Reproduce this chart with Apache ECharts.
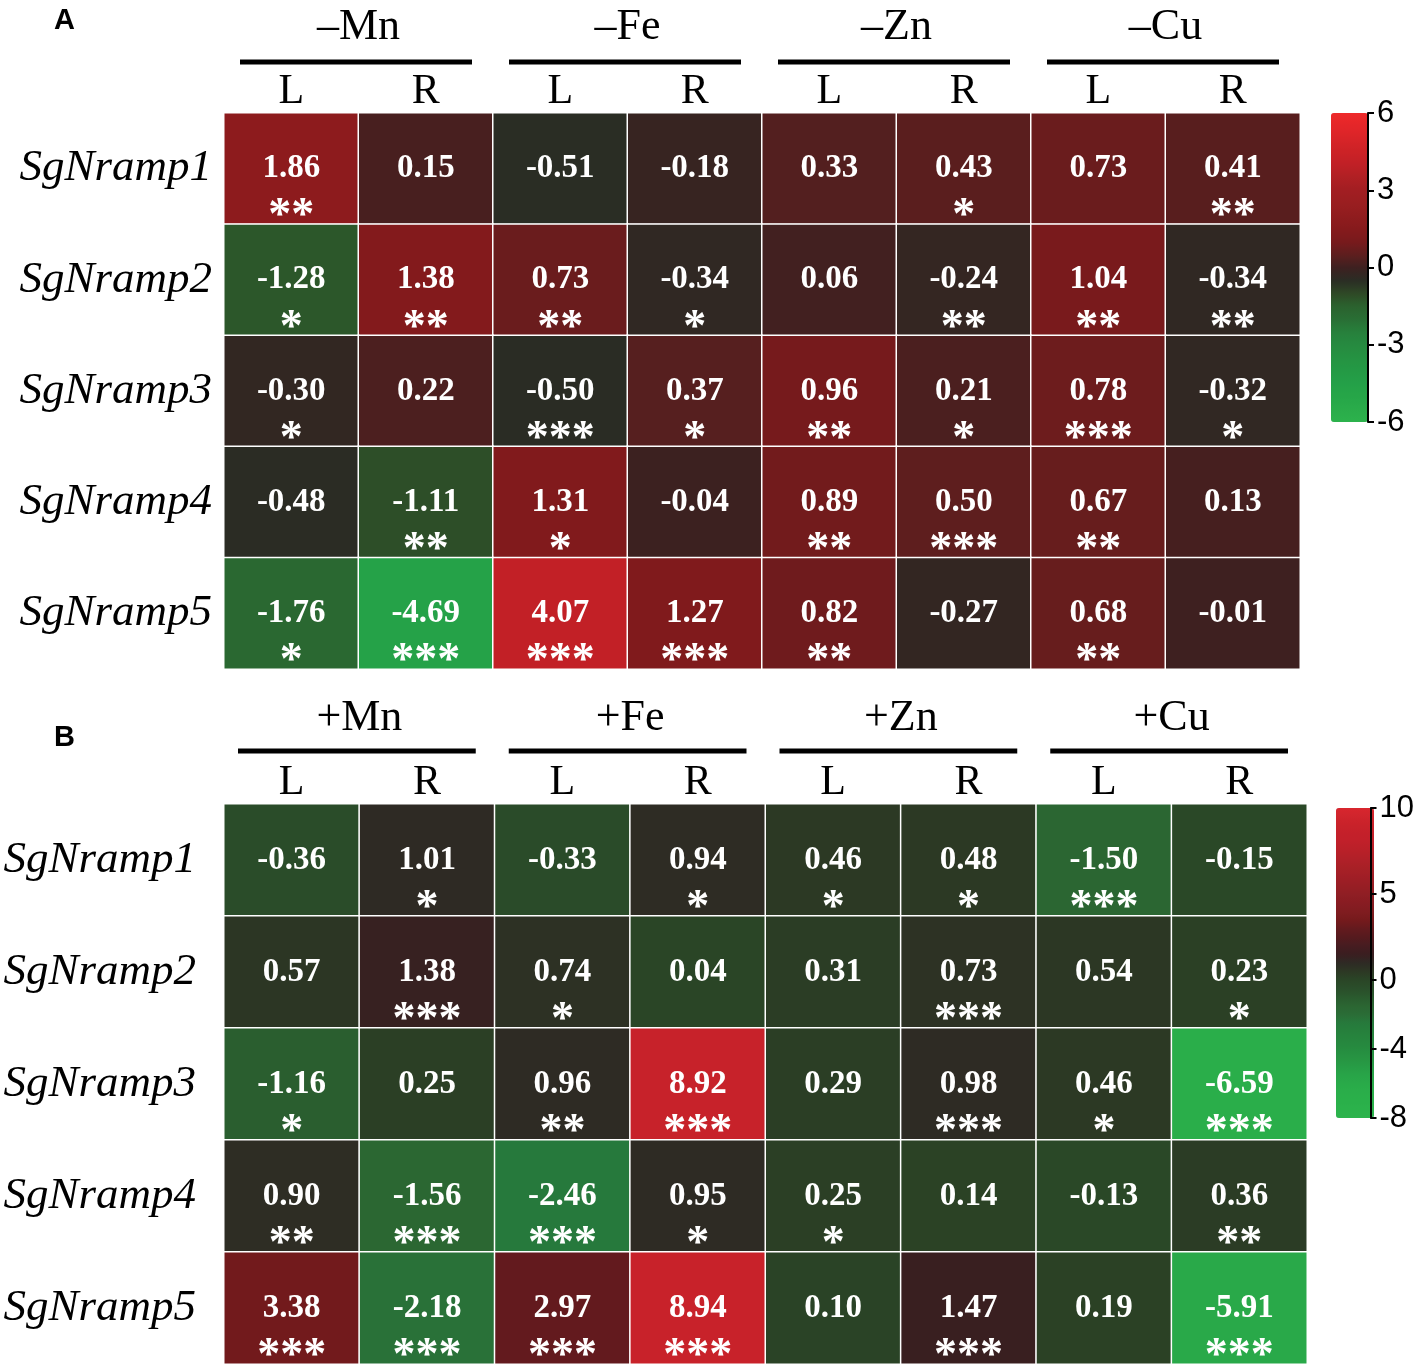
<!DOCTYPE html>
<html>
<head>
<meta charset="utf-8">
<script src="https://cdn.jsdelivr.net/npm/echarts@6/dist/echarts.min.js"></script>
<style>
  html, body { margin: 0; padding: 0; background: #fff; }
  #chart { width: 1417px; height: 1365px; }
</style>
</head>
<body>
<div id="chart"></div>
<script>
// row / column names
const genes = ['SgNramp1', 'SgNramp2', 'SgNramp3', 'SgNramp4', 'SgNramp5'];
const tissues = ['L', 'R', 'L', 'R', 'L', 'R', 'L', 'R'];
const groupsA = ['\u2013Mn', '\u2013Fe', '\u2013Zn', '\u2013Cu'];
const groupsB = ['+Mn', '+Fe', '+Zn', '+Cu'];

// A: deficiency
const valuesA = [
  [1.86, 0.15, -0.51, -0.18, 0.33, 0.43, 0.73, 0.41],
  [-1.28, 1.38, 0.73, -0.34, 0.06, -0.24, 1.04, -0.34],
  [-0.30, 0.22, -0.50, 0.37, 0.96, 0.21, 0.78, -0.32],
  [-0.48, -1.11, 1.31, -0.04, 0.89, 0.50, 0.67, 0.13],
  [-1.76, -4.69, 4.07, 1.27, 0.82, -0.27, 0.68, -0.01]
];
const starsA = [
  ['**', '', '', '', '', '*', '', '**'],
  ['*', '**', '**', '*', '', '**', '**', '**'],
  ['*', '', '***', '*', '**', '*', '***', '*'],
  ['', '**', '*', '', '**', '***', '**', ''],
  ['*', '***', '***', '***', '**', '', '**', '']
];

// B: excess
const valuesB = [
  [-0.36, 1.01, -0.33, 0.94, 0.46, 0.48, -1.50, -0.15],
  [0.57, 1.38, 0.74, 0.04, 0.31, 0.73, 0.54, 0.23],
  [-1.16, 0.25, 0.96, 8.92, 0.29, 0.98, 0.46, -6.59],
  [0.90, -1.56, -2.46, 0.95, 0.25, 0.14, -0.13, 0.36],
  [3.38, -2.18, 2.97, 8.94, 0.10, 1.47, 0.19, -5.91]
];
const starsB = [
  ['', '*', '', '*', '*', '*', '***', ''],
  ['', '***', '*', '', '', '***', '', '*'],
  ['*', '', '**', '***', '', '***', '*', '***'],
  ['**', '***', '***', '*', '*', '', '', '**'],
  ['***', '***', '***', '***', '', '***', '', '***']
];

// colour scales (stops every 0.5)
const colorsA = ['#2cb24c', '#2aac4a', '#26a648', '#24a048', '#249a45', '#259242', '#268a40',
  '#27803c', '#296e34', '#2b622e', '#2e4826', '#2a2c24', '#3e2020', '#5e1e1e', '#781a1c',
  '#861a1c', '#901c1e', '#9a1e20', '#a21e22', '#b02024', '#c02026', '#cc2226', '#d82428',
  '#e42629', '#ee2a2a'];
const colorsB = ['#2cb44c', '#2bb24b', '#2ab04a', '#2aae4a', '#29aa49', '#28a448', '#279c45',
  '#279442', '#268c40', '#26863e', '#26803c', '#267a3c', '#2a6c36', '#2b6632', '#2a5a2e',
  '#2a4e2a', '#2a4626', '#2c3824', '#2e2a24', '#3a1e20', '#461c20', '#561a1e', '#641a1e',
  '#761a1c', '#801c20', '#881c22', '#901e24', '#981e24', '#a01e26', '#a82026', '#b02028',
  '#b82028', '#c0202a', '#c4202a', '#c8222a', '#d0242c', '#d8262e'];
const ticksA = [-6, -3, 0, 3, 6];
const ticksB = [-8, -4, 0, 5, 10];

const serif = 'Liberation Serif, Times New Roman, serif';
const sans = 'Liberation Sans, Arial, sans-serif';

function cells(values) {
  let out = [];
  values.forEach((row, r) => row.forEach((v, c) => out.push([c, r, v])));
  return out;
}

function heatSeries(idx, values, stars) {
  return {
    type: 'heatmap',
    xAxisIndex: idx * 2,
    yAxisIndex: idx,
    data: cells(values),
    itemStyle: { borderColor: '#fff', borderWidth: 1.5 },
    emphasis: { disabled: true },
    label: {
      show: true,
      offset: [0, 30],
      formatter: p => '{v|' + p.value[2].toFixed(2) + '}\n{s|' + (stars[p.value[1]][p.value[0]] || ' ') + '}',
      rich: {
        v: { fontFamily: serif, fontWeight: 'bold', fontSize: 33, lineHeight: 38, color: '#fff' },
        s: { fontFamily: serif, fontWeight: 'bold', fontSize: 46, lineHeight: 60, color: '#fff' }
      }
    }
  };
}

function colAxes(grid, groups, groupOffset) {
  return [
    {
      gridIndex: grid, type: 'category', data: tissues, position: 'top',
      axisLine: { show: false }, axisTick: { show: false },
      axisLabel: { fontFamily: serif, fontSize: 42, color: '#000', margin: 0 }
    },
    {
      gridIndex: grid, type: 'category', data: groups, position: 'top', offset: groupOffset,
      axisLine: { show: false }, axisTick: { show: false },
      axisLabel: { fontFamily: serif, fontSize: 44, color: '#000', margin: 0 }
    }
  ];
}

function rowAxis(grid, margin) {
  return {
    gridIndex: grid, type: 'category', data: genes, inverse: true,
    axisLine: { show: false }, axisTick: { show: false },
    axisLabel: { fontFamily: serif, fontStyle: 'italic', fontSize: 45, color: '#000', margin: margin }
  };
}

function barAxis(grid, min, max, ticks) {
  return {
    gridIndex: grid, type: 'value', min: min, max: max, position: 'right', z: 10,
    splitLine: { show: false },
    axisLine: { show: true, onZero: false, lineStyle: { color: '#000', width: 2 } },
    axisTick: { show: true, length: 6, lineStyle: { color: '#000', width: 2 }, customValues: ticks },
    axisLabel: { fontFamily: sans, fontSize: 31, color: '#000', margin: 9, customValues: ticks }
  };
}

const hiddenX = g => ({ gridIndex: g, type: 'value', min: 0, max: 1, show: false });

var myChart = echarts.init(document.getElementById('chart'), null, { renderer: 'canvas' });

const option = {
  backgroundColor: '#fff',
  animation: false,
  title: [
    { text: 'A', left: 49, top: 1, textStyle: { fontFamily: sans, fontWeight: 'bold', fontSize: 29, color: '#000' } },
    { text: 'B', left: 49, top: 718, textStyle: { fontFamily: sans, fontWeight: 'bold', fontSize: 29, color: '#000' } }
  ],
  grid: [
    { left: 224, top: 113, width: 1076, height: 556 },
    { left: 224, top: 804, width: 1083, height: 560 },
    { left: 1331, top: 113, width: 37, height: 309 },
    { left: 1336, top: 808, width: 38, height: 310 }
  ],
  xAxis: [
    ...colAxes(0, groupsA, 64),
    ...colAxes(1, groupsB, 64),
    hiddenX(2),
    hiddenX(3)
  ],
  yAxis: [
    rowAxis(0, 12),
    rowAxis(1, 28),
    barAxis(2, -6, 6, ticksA),
    barAxis(3, -8, 10, ticksB)
  ],
  visualMap: [
    {
      type: 'continuous', seriesIndex: 0, min: -6, max: 6, calculable: false, z: 1,
      left: 1331, top: 113, itemWidth: 37, itemHeight: 309, padding: 0,
      inRange: { color: colorsA }
    },
    {
      type: 'continuous', seriesIndex: 1, min: -8, max: 10, calculable: false, z: 1,
      left: 1336, top: 808, itemWidth: 38, itemHeight: 310, padding: 0,
      inRange: { color: colorsB }
    }
  ],
  series: [
    heatSeries(0, valuesA, starsA),
    heatSeries(1, valuesB, starsB)
  ]
};
myChart.setOption(option);

// black bars under the group titles, worked out from the axes
function groupBars(axis, yAxis, lift, insetL, insetR) {
  const x0 = myChart.convertToPixel({ xAxisIndex: axis }, 0);
  const w = myChart.convertToPixel({ xAxisIndex: axis }, 1) - x0;
  const y0 = myChart.convertToPixel({ yAxisIndex: yAxis }, 0);
  const rowH = myChart.convertToPixel({ yAxisIndex: yAxis }, 1) - y0;
  const y = y0 - rowH / 2 - lift;
  let out = [];
  for (let g = 0; g < 4; g++) {
    const left = myChart.convertToPixel({ xAxisIndex: axis }, 2 * g) - w / 2 + insetL;
    const right = myChart.convertToPixel({ xAxisIndex: axis }, 2 * g + 1) + w / 2 - insetR;
    out.push({
      type: 'line',
      shape: { x1: left, y1: y, x2: right, y2: y },
      style: { stroke: '#000', lineWidth: 5 }
    });
  }
  return out;
}

myChart.setOption({
  graphic: [
    ...groupBars(0, 0, 51, 16, 21),
    ...groupBars(2, 1, 53, 14, 19)
  ]
});
</script>
</body>
</html>
